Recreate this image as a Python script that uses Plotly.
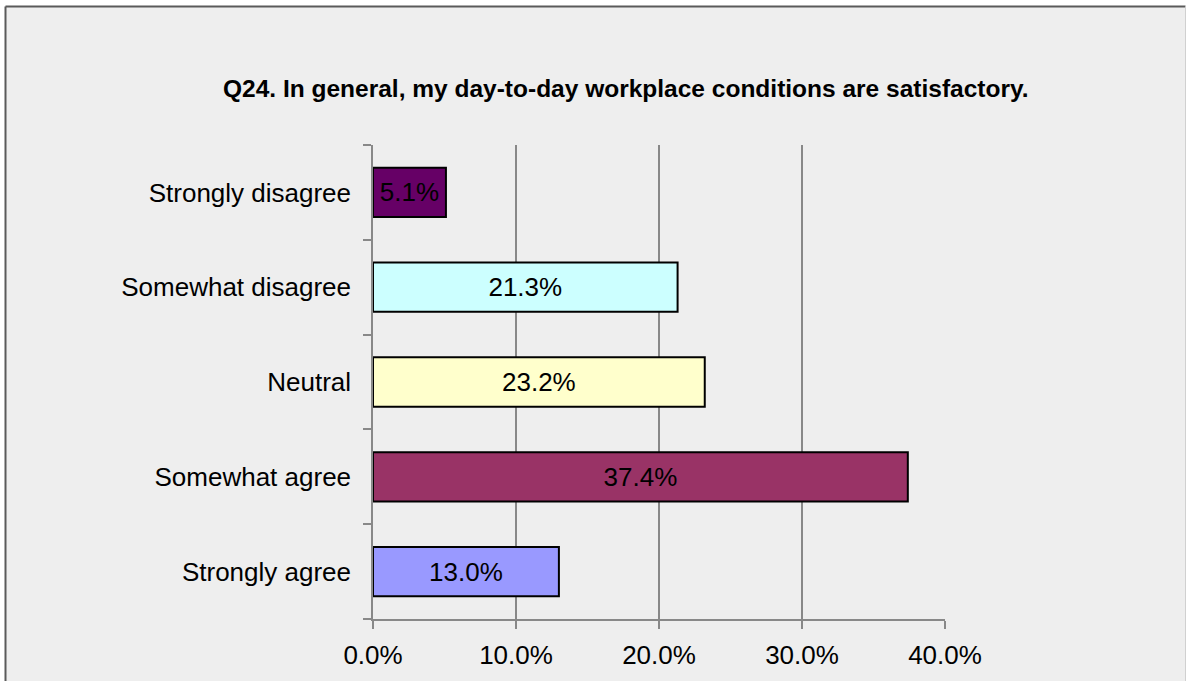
import plotly.graph_objects as go

categories = ["Strongly disagree", "Somewhat disagree", "Neutral", "Somewhat agree", "Strongly agree"]
values = [5.1, 21.3, 23.2, 37.4, 13.0]
colors = ["#660066", "#CCFFFF", "#FFFFCC", "#993366", "#9999FF"]
x_ticks = [0, 10, 20, 30, 40]
title_text = "Q24. In general, my day-to-day workplace conditions are satisfactory."

n = len(categories)
ypos = [n - 1 - i for i in range(n)]

fig = go.Figure()
fig.add_trace(go.Bar(
    x=values, y=ypos, orientation="h",
    marker=dict(color=colors, line=dict(color="black", width=2)),
    width=0.52,
    text=[f"{v:.1f}%" for v in values],
    textposition="inside", insidetextanchor="middle",
    textfont=dict(family="Liberation Sans, Arial, sans-serif", size=26, color="black"),
    constraintext="none", textangle=0,
    hoverinfo="skip",
))

L, R, T, B = 373, 242, 145, 62
pw = 1187 - L - R
ph = 681 - T - B

def px(xp):
    return (xp - L) / pw

def py(yp):
    return (681 - B - yp) / ph

fig.update_layout(
    width=1187, height=681,
    margin=dict(l=L, r=R, t=T, b=B, pad=0),
    paper_bgcolor="white",
    plot_bgcolor="rgba(0,0,0,0)",
    showlegend=False,
    font=dict(family="Liberation Sans, Arial, sans-serif", size=26, color="black"),
    xaxis=dict(
        range=[0, 40], tickvals=x_ticks, ticktext=[f"{t:.1f}%" for t in x_ticks],
        showgrid=True, gridcolor="#888888", gridwidth=1.5,
        showline=True, linecolor="#888888", linewidth=1.5,
        ticks="outside", ticklen=8, tickcolor="#888888", tickwidth=1.5,
        ticklabelstandoff=4,
        zeroline=False, fixedrange=True,
        tickfont=dict(size=26),
    ),
    yaxis=dict(
        range=[-0.5, n - 0.5], tickvals=ypos, ticktext=categories,
        showgrid=False, zeroline=False,
        showline=True, linecolor="#888888", linewidth=1.5,
        ticks="", ticklabelstandoff=15,
        minor=dict(tickvals=[i - 0.5 for i in range(n + 1)], ticks="outside",
                   ticklen=8, tickcolor="#888888", tickwidth=1.5, showgrid=False),
        tickfont=dict(size=26),
    ),
    shapes=[
        dict(type="rect", xref="paper", yref="paper", layer="below",
             x0=px(5.5), x1=px(1185.5), y0=py(700), y1=py(6.5),
             fillcolor="#EEEEEE", line=dict(width=0)),
        dict(type="line", xref="paper", yref="paper", layer="above",
             x0=px(5.5), x1=px(5.5), y0=py(700), y1=py(6.5),
             line=dict(color="#5A5A5A", width=2)),
        dict(type="line", xref="paper", yref="paper", layer="above",
             x0=px(5.5), x1=px(1185.5), y0=py(6.5), y1=py(6.5),
             line=dict(color="#5A5A5A", width=2)),
        dict(type="line", xref="paper", yref="paper", layer="above",
             x0=px(1185.5), x1=px(1185.5), y0=py(700), y1=py(6.5),
             line=dict(color="#D0D0D0", width=1)),
    ],
    annotations=[
        dict(text=f"<b>{title_text}</b>", xref="paper", yref="paper",
             x=px(626), y=py(88), xanchor="center", yanchor="middle",
             showarrow=False,
             font=dict(family="Liberation Sans, Arial, sans-serif", size=24.5, color="black")),
    ],
)

fig.write_html("out.html",
               config={"displayModeBar": False},
               post_script="document.body.style.margin='0px';document.body.style.overflow='hidden';")
